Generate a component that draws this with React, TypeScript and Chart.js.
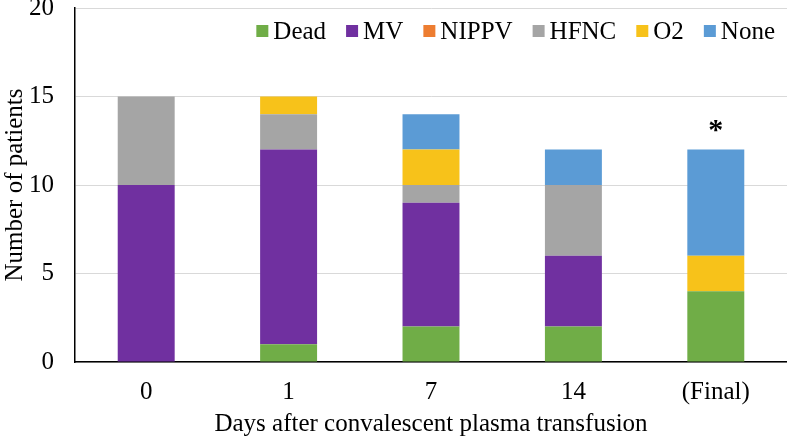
import React, { useEffect, useRef } from "react";
import { Chart, registerables } from "chart.js";

Chart.register(...registerables);

const categories = ["0", "1", "7", "14", "(Final)"];
const seriesNames = ["Dead", "MV", "NIPPV", "HFNC", "O2", "None"];
const dead = [0, 1, 2, 2, 4];
const mv = [10, 11, 7, 4, 0];
const nippv = [0, 0, 0, 0, 0];
const hfnc = [5, 2, 1, 4, 0];
const o2 = [0, 1, 2, 0, 2];
const none = [0, 0, 2, 2, 6];
const colors = ["#70AD47", "#7030A0", "#ED7D31", "#A5A5A5", "#F7C21A", "#5B9BD5"];
const yTicks = [0, 5, 10, 15, 20];
const starCategory = 4;
const starValue = 12;

const FONT = "'Liberation Serif', 'Times New Roman', serif";

export default function App() {
  const ref = useRef<HTMLCanvasElement | null>(null);
  useEffect(() => {
    if (!ref.current) return;
    const values = [dead, mv, nippv, hfnc, o2, none];
    const starPlugin = {
      id: "star",
      afterDatasetsDraw(chart: any) {
        const ctx = chart.ctx;
        const x = chart.scales.x.getPixelForValue(starCategory);
        const y = chart.scales.y.getPixelForValue(starValue);
        ctx.save();
        ctx.fillStyle = "#000";
        ctx.font = `bold 30px ${FONT}`;
        ctx.textAlign = "center";
        ctx.textBaseline = "alphabetic";
        ctx.fillText("*", x, y - 11);
        ctx.restore();
      },
    };
    const legendPlugin = {
      id: "customLegend",
      afterDraw(chart: any) {
        const ctx = chart.ctx;
        const ds = chart.data.datasets;
        ctx.save();
        ctx.font = `25px ${FONT}`;
        ctx.textBaseline = "middle";
        ctx.textAlign = "left";
        const box = 12;
        const gap = 5;
        const itemGap = 20;
        const widths = ds.map((d: any) => box + gap + ctx.measureText(d.label).width);
        const total = widths.reduce((a: number, b: number) => a + b, 0) + itemGap * (ds.length - 1);
        let x = chart.chartArea.right - 12 - total;
        const cy = 31;
        ds.forEach((d: any, i: number) => {
          ctx.fillStyle = d.backgroundColor;
          ctx.fillRect(x, cy - 6, box, box);
          ctx.fillStyle = "#000";
          ctx.fillText(d.label, x + box + gap, cy + 1);
          x += widths[i] + itemGap;
        });
        ctx.restore();
      },
    };
    const chart = new Chart(ref.current, {
      type: "bar",
      data: {
        labels: categories,
        datasets: seriesNames.map((n, i) => ({
          label: n,
          data: values[i],
          backgroundColor: colors[i],
          borderWidth: 0,
          barPercentage: 0.4,
          categoryPercentage: 1,
        })),
      },
      options: {
        animation: false,
        responsive: false,
        maintainAspectRatio: false,
        layout: { padding: { top: 0, right: 0, left: 0, bottom: 0 } },
        plugins: {
          legend: { display: false },
          tooltip: { enabled: false },
        },
        scales: {
          x: {
            stacked: true,
            afterFit(scale: any) {
              scale.height = 77;
              scale.paddingLeft = 0;
              scale.paddingRight = 0;
            },
            grid: { display: false, drawTicks: false },
            border: { display: true, color: "#000", width: 1.5 },
            ticks: { color: "#000", font: { family: FONT, size: 25 }, padding: 15 },
            title: {
              display: true,
              text: "Days after convalescent plasma transfusion",
              color: "#000",
              font: { family: FONT, size: 25 },
              padding: { top: 4, bottom: 0 },
            },
          },
          y: {
            stacked: true,
            min: 0,
            max: 20,
            afterBuildTicks(scale: any) {
              scale.ticks = yTicks.map((v) => ({ value: v }));
            },
            afterFit(scale: any) {
              scale.width = 75;
              scale.paddingTop = 8;
              scale.paddingBottom = 8;
            },
            grid: { display: true, color: "#D9D9D9", drawTicks: false },
            border: { display: true, color: "#000", width: 1.5 },
            ticks: { color: "#000", font: { family: FONT, size: 25 }, padding: 21 },
            title: {
              display: true,
              text: "Number of patients",
              color: "#000",
              font: { family: FONT, size: 25 },
              padding: { top: 0, bottom: 0 },
            },
          },
        },
      },
      plugins: [starPlugin, legendPlugin],
    });
    return () => chart.destroy();
  }, []);
  return (
    <div style={{ position: "fixed", left: 0, top: 0, width: 787, height: 439, background: "#fff" }}>
      <canvas ref={ref} width={787} height={439} />
    </div>
  );
}
